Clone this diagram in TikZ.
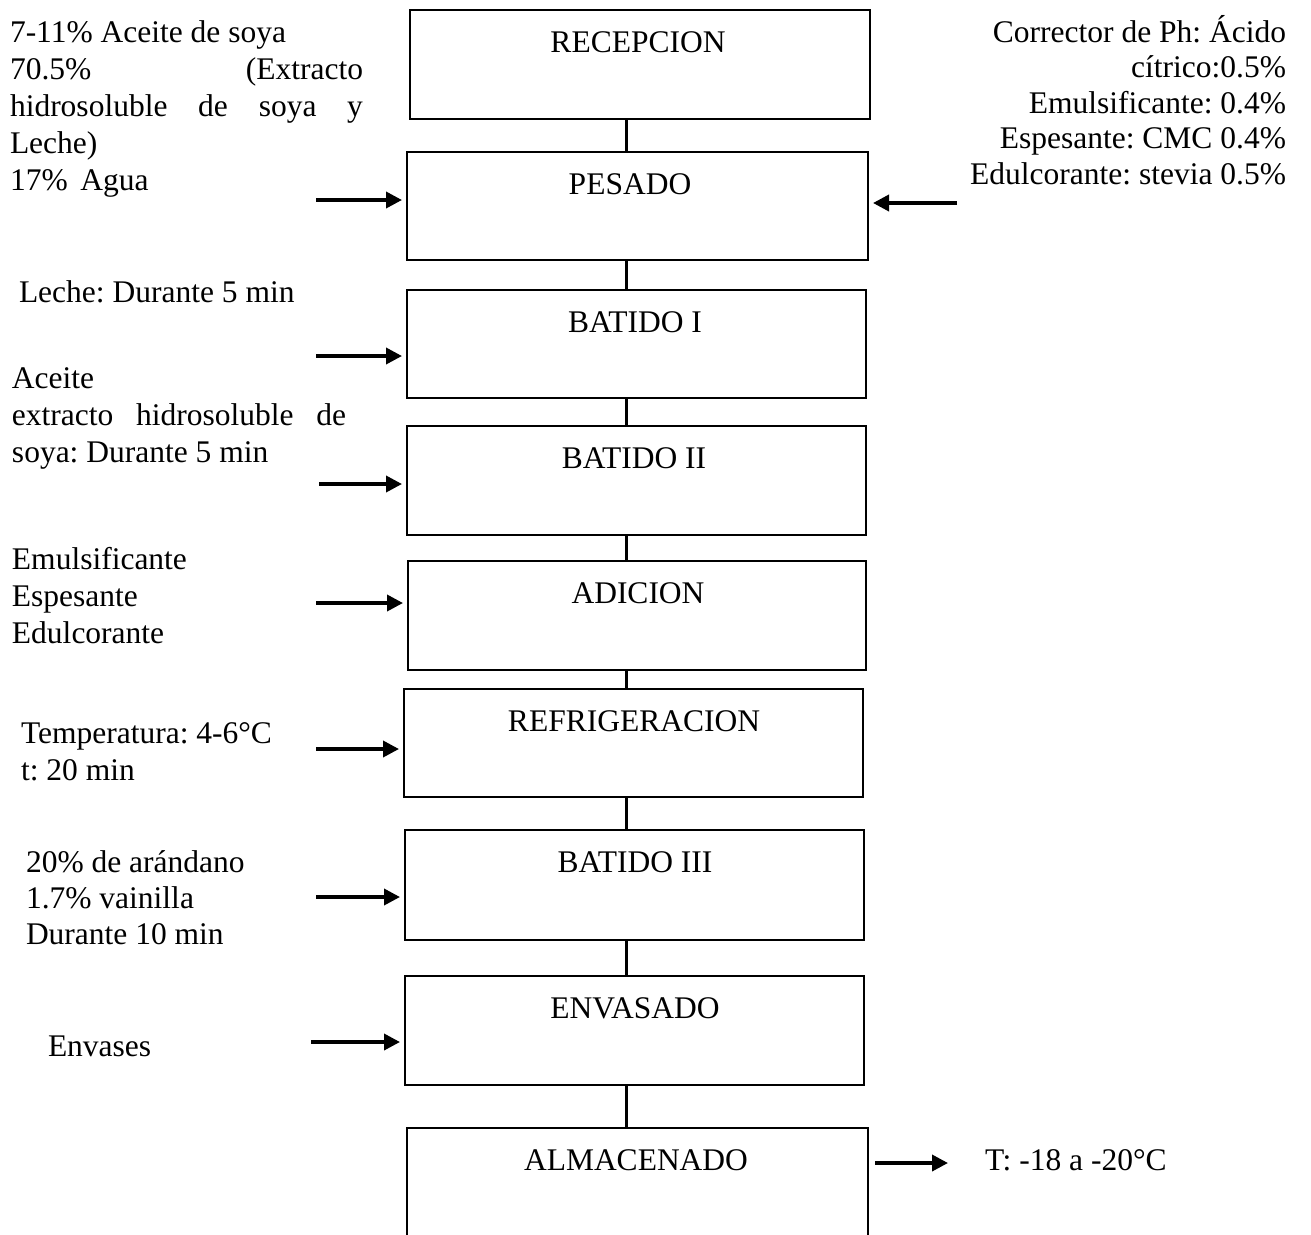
\documentclass[tikz,border=0pt]{standalone}
\usepackage{fontspec}
\setmainfont{Liberation Serif}
\usetikzlibrary{arrows.meta}
\frenchspacing

\begin{document}
\begin{tikzpicture}[x=1pt,y=-1pt,
  every node/.style={inner sep=0pt, outer sep=0pt},
  font=\fontsize{31.5}{37}\selectfont,
  stage/.style={draw, line width=2.6pt, rectangle, minimum width=459pt, minimum height=109pt},
  title/.style={anchor=base},
  link/.style={line width=3pt},
  feed/.style={line width=3.6pt, -{Triangle[length=16pt,width=16pt]}, shorten >=5pt},
  note/.style={anchor=base west, align=left},
  rnote/.style={anchor=base east, align=right, font=\fontsize{31.5}{35.5}\selectfont},
]
\useasboundingbox (0,0) rectangle (1311,1234);
\clip (0,0) rectangle (1311,1234);

% process stages
\node[stage, minimum width=460pt] (b1) at (640,64.5) {};
\node[stage, minimum width=461pt, minimum height=108pt] (b2) at (637.5,206) {};
\node[stage, minimum height=108pt] (b3) at (636.5,344) {};
\node[stage] (b4) at (636.5,480.5) {};
\node[stage, minimum width=458pt] (b5) at (637,615.5) {};
\node[stage, minimum height=108pt] (b6) at (633.5,743) {};
\node[stage, minimum height=110pt] (b7) at (634.5,885) {};
\node[stage] (b8) at (634.5,1030.5) {};
\node[stage, minimum width=461pt, minimum height=150pt] (b9) at (637.5,1203) {};

% stage titles
\node[title] (t1) at (638,52) {RECEPCION};
\node[title] (t2) at (630,194) {PESADO};
\node[title] (t3) at (635,332) {BATIDO I};
\node[title] (t4) at (634,468) {BATIDO II};
\node[title] (t5) at (638,603) {ADICION};
\node[title] (t6) at (634,731) {REFRIGERACION};
\node[title] (t7) at (635,872) {BATIDO III};
\node[title] (t8) at (635,1018) {ENVASADO};
\node[title] (t9) at (636,1170) {ALMACENADO};

% vertical links between stages
\coordinate (spine) at (626,0);
\foreach \a/\b in {b1/b2,b2/b3,b3/b4,b4/b5,b5/b6,b6/b7,b7/b8,b8/b9}
  \draw[link] (\a.south -| spine) -- (\b.north -| spine);

% inputs
\coordinate (s2) at (316,200);
\coordinate (r2) at (957,203);
\coordinate (s3) at (316,356);
\coordinate (s4) at (319,484);
\coordinate (s5) at (316,603);
\coordinate (s6) at (316,749);
\coordinate (s7) at (316,897);
\coordinate (s8) at (311,1042);
\coordinate (e9) at (948,1163);
\draw[feed] (s2) -- (s2 -| b2.west);
\draw[feed] (r2) -- (r2 -| b2.east);
\draw[feed] (s3) -- (s3 -| b3.west);
\draw[feed] (s4) -- (s4 -| b4.west);
\draw[feed] (s5) -- (s5 -| b5.west);
\draw[feed] (s6) -- (s6 -| b6.west);
\draw[feed] (s7) -- (s7 -| b7.west);
\draw[feed] (s8) -- (s8 -| b8.west);
\draw[feed, shorten >=0pt, shorten <=7pt] (e9 -| b9.east) -- (e9);

% notes (multi-line notes are placed by the baseline of their last line)
\node[note] (n1) at (10,190) {7-11\% Aceite de soya\\
  \hbox to 353pt{70.5\%\hfill(Extracto}\\
  \hbox to 353pt{hidrosoluble\hfill de\hfill soya\hfill y}\\
  Leche)\\
  17\%\hspace{0.4em}Agua};
\node[rnote] (n2) at (1286,184) {Corrector de Ph: Ácido\\
  cítrico:0.5\%\\
  Emulsificante: 0.4\%\\
  Espesante: CMC 0.4\%\\
  Edulcorante: stevia 0.5\%};
\node[note] (n3) at (19,302) {Leche: Durante 5 min};
\node[note] (n4) at (12,462.5) {Aceite\\
  \hbox to 334pt{extracto\hfill hidrosoluble\hfill de}\\
  soya: Durante 5 min};
\node[note] (n5) at (12,643) {Emulsificante\\ Espesante\\ Edulcorante};
\node[note] (n6) at (21,780) {Temperatura: 4-6°C\\ t: 20 min};
\node[note, font=\fontsize{31.5}{36}\selectfont] (n7) at (26,944) {20\% de arándano\\ 1.7\% vainilla\\ Durante 10 min};
\node[note] (n8) at (48,1056) {Envases};
\node[note] (n9) at (985,1170) {T: -18 a -20°C};
\end{tikzpicture}
\end{document}
